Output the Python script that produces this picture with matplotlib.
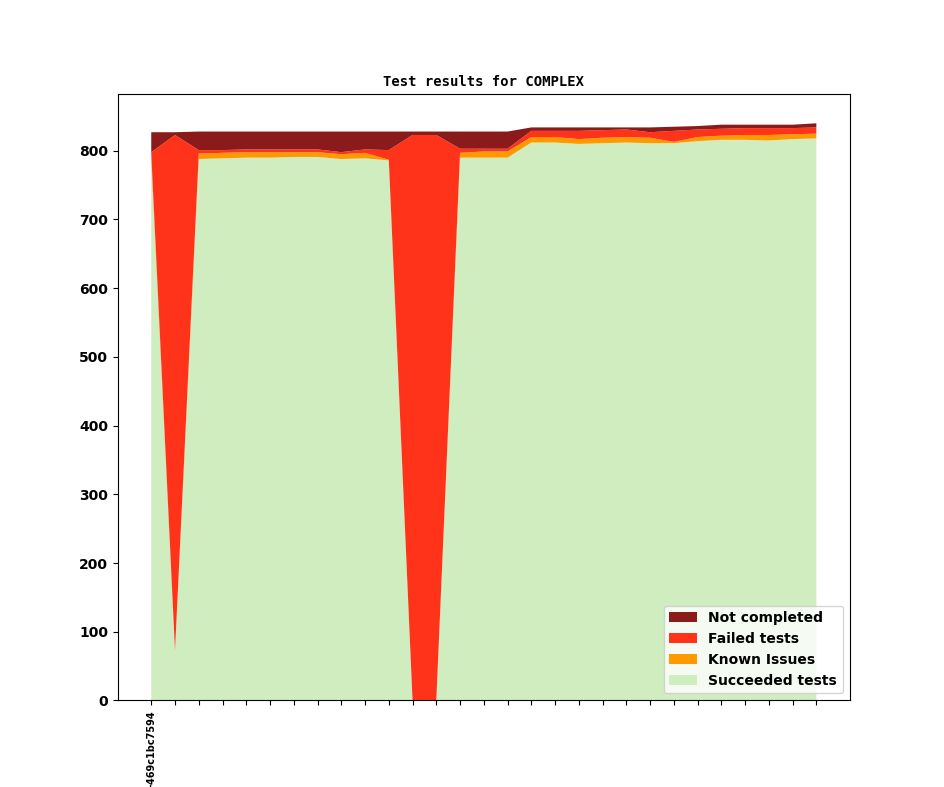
import matplotlib
matplotlib.use("Agg")
import matplotlib.pyplot as plt
import numpy as np

tick_labels = ["-469c1bc7594"] + [""] * 28

succeeded = [787, 72, 788, 789, 790, 790, 791, 791, 788, 789, 786, 0, 0, 790, 790, 790,
             812, 812, 810, 811, 812, 811, 811, 814, 816, 816, 815, 817, 818]
known = [9, 1, 8, 8, 8, 8, 7, 7, 7, 8, 1, 0, 0, 7, 9, 9,
         8, 8, 7, 8, 8, 8, 2, 6, 6, 7, 8, 7, 7]
failed = [2, 750, 5, 4, 4, 4, 4, 4, 3, 5, 14, 823, 823, 6, 4, 4,
          9, 9, 12, 11, 11, 8, 16, 11, 10, 10, 10, 9, 9]
not_completed = [29, 4, 27, 27, 26, 26, 26, 26, 30, 26, 27, 5, 5, 25, 25, 25,
                 5, 5, 5, 4, 3, 7, 6, 5, 6, 5, 5, 5, 6]

series_names = ["Succeeded tests", "Known Issues", "Failed tests", "Not completed"]
colors = ["#cfedbf", "#ff9900", "#ff3319", "#8b1a1a"]

fig, ax = plt.subplots(figsize=(9.44, 7.87), dpi=100)
x = np.arange(len(tick_labels))
polys = ax.stackplot(x, succeeded, known, failed, not_completed,
                     labels=series_names, colors=colors)

ax.set_xticks(x)
ax.set_xticklabels(tick_labels, rotation=90, fontsize=7, fontweight="bold")
for lbl in ax.get_yticklabels():
    lbl.set_fontweight("bold")
ax.tick_params(axis="y", labelsize=10)

ax.set_title("Test results for COMPLEX", fontsize=10, fontweight="bold",
             family="DejaVu Sans Mono")

handles, labels = ax.get_legend_handles_labels()
leg = ax.legend(handles[::-1], labels[::-1], loc="lower right",
                prop={"weight": "bold", "size": 10})

fig.savefig("out.png", dpi=100)
